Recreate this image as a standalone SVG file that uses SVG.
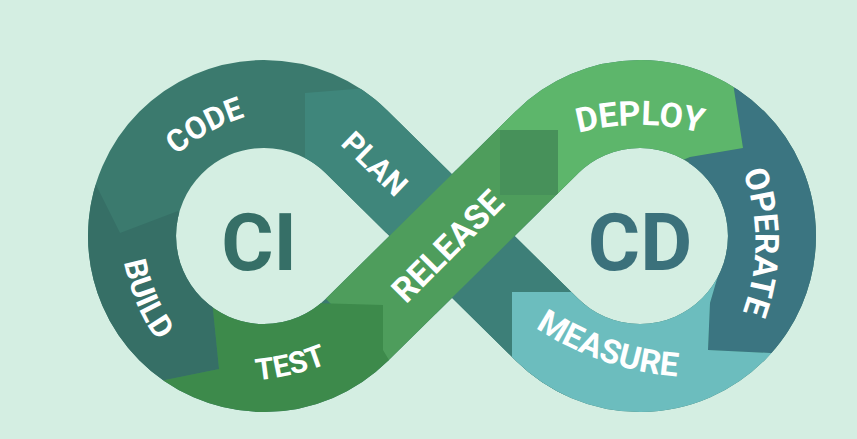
<svg xmlns="http://www.w3.org/2000/svg" width="857" height="439" viewBox="0 0 857 439">
<style>
.band{fill:none;stroke-width:88;stroke-linejoin:round}
.lbl{font-family:Roboto,"Liberation Sans",Arial,sans-serif;font-weight:700;fill:#ffffff;text-anchor:middle}
.hub{font-family:Roboto,"Liberation Sans",Arial,sans-serif;font-weight:700;font-size:80px;text-anchor:middle}
</style>
<defs>
<path id="full" class="band" d="M547.3,330 L356.7,142 A132,132 0 1 0 356.7,330 L547.3,142 A132,132 0 1 1 547.3,330 Z"/>
<clipPath id="cPlan"><polygon points="305,93 392,86 452,150 470,236 452,260 305,200"/></clipPath>
<clipPath id="cD1"><polygon points="465,160 600,250 560,420 420,300"/></clipPath>
<clipPath id="cBuild"><polygon points="40,175 95,183 120,233 178,211 200,240 212,300 219,369 160,381 40,380"/></clipPath>
<clipPath id="cOperate"><polygon points="730,30 733,83 743,148 690,157 680,200 722,262 710,303 708,350 770,353 840,353 840,30"/></clipPath>
<clipPath id="cMeasure"><polygon points="512,292 600,292 650,250 722,262 710,303 708,350 770,353 840,380 840,460 512,460"/></clipPath>
<clipPath id="cTest"><polygon points="120,368 160,381 219,369 212,300 383,305 383,350 392,365 392,450 120,450"/></clipPath>
<clipPath id="cHead"><polygon points="500,130 558,130 558,195 500,195"/></clipPath>
<clipPath id="cDeploy"><polygon points="470,30 470,130 558,130 558,212 690,157 743,148 733,83 730,30"/></clipPath>
<path id="tCode" d="M113.5,252.5 A200,200 0 0 1 360.9,115.3"/>
<path id="tDeploy" d="M502.3,168.4 A240,240 0 0 1 777.7,168.4"/>
<path id="tOperate" d="M708.5,113.4 A200,200 0 0 1 708.5,370.6"/>
<path id="tMeasure" d="M443.8,231.9 A300,300 0 0 0 808.5,357.5"/>
<path id="tTest" d="M163.2,371.1 A250,250 0 0 0 406.3,312.7"/>
<path id="tBuild" d="M129.3,166.6 A200,200 0 0 0 229.8,403.3"/>
</defs>
<rect width="857" height="439" fill="#d4eee2"/>
<g id="code">
<use href="#full" stroke="#3b7a6e"/>
<text class="lbl" font-size="31"><textPath href="#tCode" startOffset="50%">CODE</textPath></text>
</g>
<g id="plan">
<use href="#full" stroke="#3f867b" clip-path="url(#cPlan)"/>
<text class="lbl" font-size="30" transform="translate(375,163.5) rotate(44)" y="10.7">PLAN</text>
</g>
<g id="return-path">
<use href="#full" stroke="#3d7f78" clip-path="url(#cD1)"/>
</g>
<g id="build">
<use href="#full" stroke="#366f66" clip-path="url(#cBuild)"/>
<text class="lbl" font-size="31"><textPath href="#tBuild" startOffset="50%">BUILD</textPath></text>
</g>
<g id="operate">
<use href="#full" stroke="#3b7581" clip-path="url(#cOperate)"/>
<text class="lbl" font-size="33"><textPath href="#tOperate" startOffset="50%">OPERATE</textPath></text>
</g>
<g id="measure">
<use href="#full" stroke="#6cbdbe" clip-path="url(#cMeasure)"/>
<text class="lbl" font-size="33"><textPath href="#tMeasure" startOffset="50%">MEASURE</textPath></text>
</g>
<g id="release">
<path class="band" d="M356.7,330 L547.3,142" stroke="#4e9d5c"/>
<use href="#full" stroke="#47915a" clip-path="url(#cHead)"/>
</g>
<g id="test">
<use href="#full" stroke="#3d8a4b" clip-path="url(#cTest)"/>
<text class="lbl" font-size="30"><textPath href="#tTest" startOffset="50%">TEST</textPath></text>
</g>
<g id="deploy">
<use href="#full" stroke="#5db66b" clip-path="url(#cDeploy)"/>
<text class="lbl" font-size="34"><textPath href="#tDeploy" startOffset="50%">DEPLOY</textPath></text>
</g>
<g id="release-label">
<text class="lbl" font-size="34" transform="translate(447.5,246) rotate(-45)" y="12">RELEASE</text>
</g>
<g id="connectors"></g>
<g id="ci">
<text class="hub" x="259" y="270" fill="#366f67">CI</text>
</g>
<g id="cd">
<text class="hub" x="640" y="270" fill="#3b717b">CD</text>
</g>
</svg>
